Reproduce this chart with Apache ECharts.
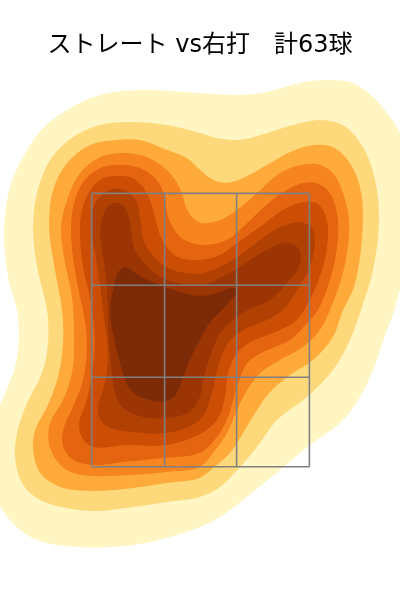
<!DOCTYPE html>
<html><head><meta charset="utf-8">
<style>html,body{margin:0;padding:0;background:#fff}#c{width:400px;height:600px}</style>
<script src="https://cdn.jsdelivr.net/npm/echarts@6/dist/echarts.min.js"></script>
</head><body><div id="c"></div>
<script>
const titleText = 'ストレート vs右打\u3000計63球';
const levelColors = ['#fff6c3','#fed97c','#feab3b','#f6851f','#e4640f','#cc4e04','#b04103','#9b3604','#7d2b06'];
const zoneX = [91.7, 164.6, 236.6, 309.4];
const zoneY = [193.4, 285.2, 377.3, 466.8];
const level1 = [[140,90],[100,95],[67,110],[43,128],[23,157],[10,187],[4,230],[8,277],[17,310],[19,337],[15,367],[5,393],[-5,420],[-8,460],[-3,500],[20,530],[43,542],[77,547],[113,547],[150,542],[200,527],[220,517],[243,500],[280,470],[310,445],[340,423],[360,397],[377,360],[385,335],[391,320],[398,297],[405,265],[412,225],[410,170],[400,133],[390,117],[373,97],[353,83],[327,80],[300,83],[267,92],[240,95],[200,93]];
const level2 = [[127,122],[100,125],[73,137],[50,160],[37,193],[33,227],[37,267],[47,310],[48,343],[42,373],[27,403],[17,433],[15,457],[22,483],[40,500],[90,511],[133,507],[167,502],[200,497],[220,487],[240,467],[257,447],[277,420],[307,397],[333,370],[350,340],[361,310],[373,270],[379,220],[375,180],[363,147],[343,125],[320,120],[293,125],[267,133],[240,140],[217,138],[200,133],[167,125]];
const level3 = [[117,140],[90,145],[67,163],[53,190],[49,227],[55,270],[62,310],[63,343],[58,377],[47,407],[35,430],[33,450],[40,473],[60,487],[93,491],[133,488],[167,483],[200,478],[213,468],[230,453],[243,433],[257,410],[270,392],[290,375],[313,360],[333,337],[343,310],[353,290],[360,257],[363,213],[360,187],[350,163],[333,147],[313,145],[290,152],[267,165],[243,178],[227,183],[213,180],[200,170],[187,158],[167,150],[140,140]];
const level4 = [[122,153],[100,157],[80,173],[67,200],[61,227],[65,263],[72,297],[74,343],[72,373],[63,400],[50,423],[49,445],[60,465],[73,473],[93,476],[130,475],[167,472],[200,467],[213,453],[227,433],[237,410],[247,390],[260,373],[280,360],[303,347],[320,330],[330,310],[340,283],[347,253],[349,220],[343,193],[333,173],[317,164],[300,165],[280,173],[257,193],[237,210],[220,220],[200,223],[187,210],[182,193],[170,173],[147,157]];
const level5 = [[120,165],[100,168],[83,182],[74,203],[71,227],[73,257],[80,297],[83,310],[87,343],[83,380],[73,407],[63,430],[63,447],[73,460],[93,465],[123,462],[163,458],[200,453],[217,437],[228,417],[237,387],[247,363],[263,352],[290,340],[307,323],[318,310],[332,273],[338,237],[337,213],[330,193],[317,183],[303,183],[283,192],[263,208],[243,227],[227,240],[200,245],[180,237],[168,217],[165,197],[157,180],[140,168]];
const level6 = [[118,176],[103,178],[90,190],[82,210],[80,230],[83,267],[90,297],[92,310],[95,343],[92,373],[87,400],[79,423],[82,438],[92,447],[127,445],[167,445],[200,434],[217,420],[225,397],[228,373],[237,353],[250,342],[273,333],[293,323],[303,312],[322,270],[328,237],[326,217],[317,203],[303,202],[283,210],[260,227],[237,243],[220,255],[200,260],[177,257],[162,240],[155,217],[147,193],[133,178]];
const level7 = [[117,188],[100,196],[92,210],[91,228],[95,252],[100,285],[103,310],[108,353],[105,383],[98,407],[100,420],[110,428],[133,432],[167,433],[200,420],[212,393],[218,367],[228,343],[243,330],[267,320],[283,310],[297,290],[310,267],[315,240],[312,227],[300,222],[280,227],[260,240],[240,255],[220,267],[200,274],[187,273],[172,270],[155,258],[144,242],[140,218],[135,198]];
const level8 = [[118,202],[108,206],[102,218],[100,235],[104,262],[107,290],[108,320],[109,343],[112,373],[115,393],[123,408],[143,417],[167,418],[190,412],[200,397],[203,380],[210,357],[220,333],[233,320],[248,310],[270,300],[287,283],[299,267],[300,250],[288,242],[263,252],[240,267],[220,278],[200,286],[177,283],[157,275],[140,258],[133,245],[131,228],[127,211]];
const level9 = [[124,266],[118,272],[113,290],[110,310],[115,343],[122,370],[130,390],[143,398],[163,402],[175,396],[183,377],[193,353],[200,340],[210,322],[220,312],[231,300],[238,291],[233,287],[220,292],[200,296],[165,287],[150,281],[135,273]];
const contours = [level1,level2,level3,level4,level5,level6,level7,level8,level9];

const zoneLines = [];
zoneX.forEach(x => zoneLines.push([[x, zoneY[0]], [x, zoneY[3]]]));
zoneY.forEach(y => zoneLines.push([[zoneX[0], y], [zoneX[3], y]]));

// closed centripetal Catmull-Rom curve through the projected contour points, lightly low-passed
function curve(pts){
  const n=pts.length,out=[];
  const lerp=(a,b,t1,t2,t)=>t2===t1?a:[a[0]+(b[0]-a[0])*(t-t1)/(t2-t1),a[1]+(b[1]-a[1])*(t-t1)/(t2-t1)];
  for(let i=0;i<n;i++){
    const p0=pts[(i-1+n)%n],p1=pts[i],p2=pts[(i+1)%n],p3=pts[(i+2)%n];
    const d=(a,b)=>Math.sqrt(Math.hypot(a[0]-b[0],a[1]-b[1]))||1e-3;
    const t0=0,t1=t0+d(p0,p1),t2=t1+d(p1,p2),t3=t2+d(p2,p3);
    const steps=Math.max(2,Math.round(Math.hypot(p1[0]-p2[0],p1[1]-p2[1])));
    for(let s=0;s<steps;s++){
      const t=t1+(t2-t1)*s/steps;
      const a1=lerp(p0,p1,t0,t1,t),a2=lerp(p1,p2,t1,t2,t),a3=lerp(p2,p3,t2,t3,t);
      const b1=lerp(a1,a2,t0,t2,t),b2=lerp(a2,a3,t1,t3,t);
      out.push(lerp(b1,b2,t1,t2,t));
    }
  }
  const box=(a,w)=>a.map((_,i)=>{let x=0,y=0;for(let k=-w;k<=w;k++){const q=a[(i+k+a.length)%a.length];x+=q[0];y+=q[1];}return [x/(2*w+1),y/(2*w+1)];});
  return box(box(out,4),4);
}

const chart = echarts.init(document.getElementById('c'), null, {renderer:'canvas'});
chart.setOption({
  animation:false,
  backgroundColor:'#fff',
  title:{text:titleText,left:'center',top:29,textStyle:{fontFamily:'"DejaVu Sans","Noto Sans CJK JP"',fontSize:24,fontWeight:'normal',color:'#000'}},
  grid:{left:0,right:0,top:0,bottom:0},
  xAxis:{type:'value',min:0,max:400,show:false},
  yAxis:{type:'value',min:0,max:600,inverse:true,show:false},
  series:[
    {type:'custom',coordinateSystem:'cartesian2d',silent:true,clip:true,
     data:contours.map((c,i)=>[i]),
     encode:{x:-1,y:-1},
     renderItem:(params,api)=>{
       const i=api.value(0);
       return {type:'polygon',shape:{points:curve(contours[i].map(p=>api.coord(p)))},style:{fill:levelColors[i],stroke:null}};
     }},
    ...zoneLines.map(d=>({type:'line',data:d,symbol:'none',silent:true,clip:false,z:5,lineStyle:{color:'#808080',width:1.6}}))
  ]
});
</script></body></html>
